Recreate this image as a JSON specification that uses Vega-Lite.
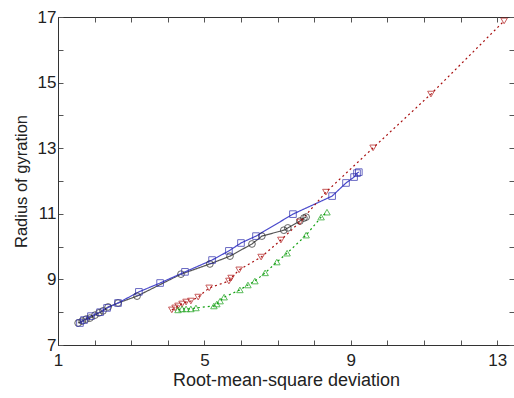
{
  "$schema": "https://vega.github.io/schema/vega-lite/v6.json",
  "width": 456,
  "height": 328,
  "autosize": "none",
  "padding": {"left": 58, "top": 17, "right": 0, "bottom": 53},
  "background": "white",
  "config": {
    "view": {"stroke": "#333", "strokeWidth": 1},
    "font": "Liberation Sans",
    "axis": {"grid": false, "domainColor": "#333", "tickColor": "#555", "labelColor": "#222", "titleColor": "#222", "labelFont": "Liberation Sans", "titleFont": "Liberation Sans", "labelFontSize": 17, "titleFontSize": 16, "titleFontWeight": "normal"}
  },
  "data": {"values": [
    {"s": "A", "x": 1.55, "y": 7.67}, {"s": "A", "x": 1.66, "y": 7.73}, {"s": "A", "x": 1.77, "y": 7.79}, {"s": "A", "x": 1.87, "y": 7.82}, {"s": "A", "x": 2.01, "y": 7.91}, {"s": "A", "x": 2.12, "y": 7.98}, {"s": "A", "x": 2.23, "y": 8.04}, {"s": "A", "x": 2.37, "y": 8.16}, {"s": "A", "x": 2.64, "y": 8.28}, {"s": "A", "x": 3.16, "y": 8.49}, {"s": "A", "x": 4.36, "y": 9.16}, {"s": "A", "x": 5.15, "y": 9.47}, {"s": "A", "x": 5.7, "y": 9.71}, {"s": "A", "x": 6.3, "y": 10.08}, {"s": "A", "x": 6.57, "y": 10.32}, {"s": "A", "x": 7.17, "y": 10.5}, {"s": "A", "x": 7.28, "y": 10.57}, {"s": "A", "x": 7.61, "y": 10.78}, {"s": "A", "x": 7.72, "y": 10.87}, {"s": "A", "x": 7.78, "y": 10.9},
    {"s": "B", "x": 1.6, "y": 7.67}, {"s": "B", "x": 1.71, "y": 7.76}, {"s": "B", "x": 1.9, "y": 7.88}, {"s": "B", "x": 2.15, "y": 8.0}, {"s": "B", "x": 2.34, "y": 8.13}, {"s": "B", "x": 2.64, "y": 8.28}, {"s": "B", "x": 3.21, "y": 8.62}, {"s": "B", "x": 3.79, "y": 8.89}, {"s": "B", "x": 4.47, "y": 9.23}, {"s": "B", "x": 5.21, "y": 9.59}, {"s": "B", "x": 5.67, "y": 9.87}, {"s": "B", "x": 6.0, "y": 10.11}, {"s": "B", "x": 6.41, "y": 10.32}, {"s": "B", "x": 7.42, "y": 10.99}, {"s": "B", "x": 8.49, "y": 11.54}, {"s": "B", "x": 8.87, "y": 11.94}, {"s": "B", "x": 9.09, "y": 12.12}, {"s": "B", "x": 9.17, "y": 12.24}, {"s": "B", "x": 9.22, "y": 12.27},
    {"s": "C", "x": 4.11, "y": 8.07}, {"s": "C", "x": 4.2, "y": 8.13}, {"s": "C", "x": 4.28, "y": 8.19}, {"s": "C", "x": 4.39, "y": 8.25}, {"s": "C", "x": 4.5, "y": 8.31}, {"s": "C", "x": 4.63, "y": 8.34}, {"s": "C", "x": 4.83, "y": 8.46}, {"s": "C", "x": 5.13, "y": 8.74}, {"s": "C", "x": 5.67, "y": 8.95}, {"s": "C", "x": 5.73, "y": 9.04}, {"s": "C", "x": 5.95, "y": 9.29}, {"s": "C", "x": 6.55, "y": 9.68}, {"s": "C", "x": 7.09, "y": 10.2}, {"s": "C", "x": 7.61, "y": 10.75}, {"s": "C", "x": 8.32, "y": 11.66}, {"s": "C", "x": 9.61, "y": 13.01}, {"s": "C", "x": 11.19, "y": 14.65}, {"s": "C", "x": 13.19, "y": 16.88},
    {"s": "D", "x": 4.28, "y": 8.07}, {"s": "D", "x": 4.39, "y": 8.1}, {"s": "D", "x": 4.5, "y": 8.1}, {"s": "D", "x": 4.63, "y": 8.1}, {"s": "D", "x": 4.77, "y": 8.13}, {"s": "D", "x": 5.26, "y": 8.19}, {"s": "D", "x": 5.34, "y": 8.25}, {"s": "D", "x": 5.43, "y": 8.34}, {"s": "D", "x": 5.54, "y": 8.46}, {"s": "D", "x": 5.97, "y": 8.68}, {"s": "D", "x": 6.19, "y": 8.83}, {"s": "D", "x": 6.38, "y": 8.95}, {"s": "D", "x": 6.66, "y": 9.2}, {"s": "D", "x": 6.98, "y": 9.53}, {"s": "D", "x": 7.26, "y": 9.8}, {"s": "D", "x": 7.78, "y": 10.35}, {"s": "D", "x": 8.19, "y": 10.9}, {"s": "D", "x": 8.35, "y": 11.05}
  ]},
  "layer": [
    {
      "mark": {"type": "line", "strokeWidth": 1.2, "clip": true},
      "encoding": {
        "x": {"field": "x", "type": "quantitative", "scale": {"domain": [1, 13.46], "nice": false, "zero": false},
          "axis": {"orient": "bottom", "title": "Root-mean-square deviation", "titleFontSize": 18, "values": [1,2,3,4,5,6,7,8,9,10,11,12,13], "labelExpr": "datum.value % 4 === 1 ? datum.label : ''", "tickSize": -5, "labelPadding": 12, "titlePadding": 3, "labelFlush": false}},
        "y": {"field": "y", "type": "quantitative", "scale": {"domain": [7, 17], "nice": false, "zero": false},
          "axis": {"orient": "left", "title": "Radius of gyration", "titleFontSize": 16.5, "values": [7,8,9,10,11,12,13,14,15,16,17], "labelExpr": "datum.value % 2 === 1 ? datum.label : ''", "tickSize": -5, "labelPadding": 7, "titlePadding": 8, "labelFlush": false}},
        "color": {"field": "s", "type": "nominal", "legend": null, "scale": {"domain": ["A","B","C","D"], "range": ["#555555", "#4a4acc", "#a81010", "#10a010"]}},
        "strokeDash": {"field": "s", "type": "nominal", "legend": null, "scale": {"domain": ["A","B","C","D"], "range": [[1,0],[1,0],[2,3],[2,3]]}},
        "strokeWidth": {"field": "s", "type": "nominal", "legend": null, "scale": {"domain": ["A","B","C","D"], "range": [1, 1, 2.2, 2.2]}}
      }
    },
    {
      "mark": {"type": "point", "filled": false, "strokeWidth": 1},
      "encoding": {
        "x": {"field": "x", "type": "quantitative", "axis": null},
        "y": {"field": "y", "type": "quantitative", "axis": null},
        "size": {"field": "s", "type": "nominal", "legend": null, "scale": {"domain": ["A","B","C","D"], "range": [45, 42, 75, 75]}},
        "color": {"field": "s", "type": "nominal", "legend": null, "scale": {"domain": ["A","B","C","D"], "range": ["#222222", "#2a2aaa", "#b01515", "#15a015"]}},
        "shape": {"field": "s", "type": "nominal", "legend": null, "scale": {"domain": ["A","B","C","D"], "range": ["circle", "square", "triangle-down", "triangle-up"]}}
      }
    },
    {
      "mark": {"type": "point", "opacity": 0},
      "encoding": {
        "x": {"field": "x", "type": "quantitative", "axis": {"orient": "top", "title": null, "labels": false, "values": [1,2,3,4,5,6,7,8,9,10,11,12,13], "tickSize": -5, "domain": false}},
        "y": {"field": "y", "type": "quantitative", "axis": {"orient": "right", "title": null, "labels": false, "values": [7,8,9,10,11,12,13,14,15,16,17], "tickSize": -5, "domain": false}}
      }
    }
  ],
  "resolve": {"axis": {"x": "independent", "y": "independent"}, "scale": {"color": "independent"}}
}
